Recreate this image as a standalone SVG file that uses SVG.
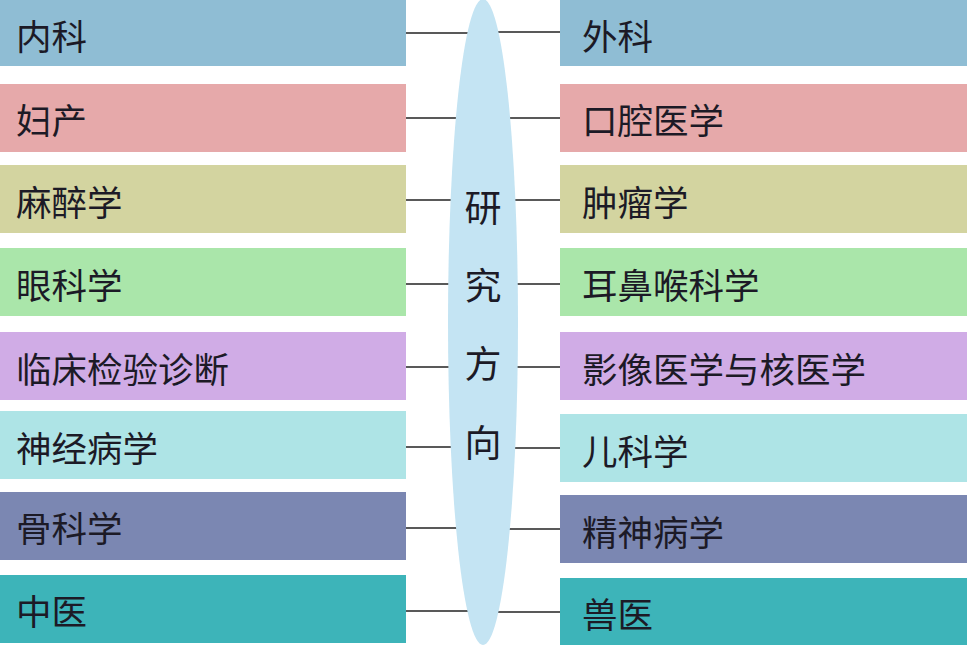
<svg xmlns="http://www.w3.org/2000/svg" width="967" height="645" viewBox="0 0 967 645">
<style>
.t{font-family:"Noto Sans CJK SC","Noto Sans",sans-serif;font-size:35.5px;fill:#1c1a26;dominant-baseline:central}
.c{text-anchor:middle;font-size:37px}
.ln{stroke:#222;stroke-width:1.3}
.r1{fill:#8fbdd4}.r2{fill:#e6a9aa}.r3{fill:#d3d4a0}.r4{fill:#aae6aa}
.r5{fill:#d0ace6}.r6{fill:#aee4e6}.r7{fill:#7b87b2}.r8{fill:#3db4b9}
</style>
<rect width="967" height="645" fill="#ffffff"/>
<g id="connectors">
<line class="ln" x1="406" y1="33" x2="470" y2="33"/><line class="ln" x1="496" y1="32" x2="560" y2="32"/>
<line class="ln" x1="406" y1="118" x2="470" y2="118"/><line class="ln" x1="496" y1="118" x2="560" y2="118"/>
<line class="ln" x1="406" y1="200" x2="470" y2="200"/><line class="ln" x1="496" y1="200" x2="560" y2="200"/>
<line class="ln" x1="406" y1="284" x2="470" y2="284"/><line class="ln" x1="496" y1="284" x2="560" y2="284"/>
<line class="ln" x1="406" y1="367" x2="470" y2="367"/><line class="ln" x1="496" y1="367" x2="560" y2="367"/>
<line class="ln" x1="406" y1="447" x2="470" y2="447"/><line class="ln" x1="496" y1="448" x2="560" y2="448"/>
<line class="ln" x1="406" y1="528" x2="470" y2="528"/><line class="ln" x1="496" y1="529" x2="560" y2="529"/>
<line class="ln" x1="406" y1="611" x2="470" y2="611"/><line class="ln" x1="496" y1="612" x2="560" y2="612"/>
</g>
<g id="center">
<ellipse cx="483" cy="322" rx="35" ry="323" fill="#c4e4f3"/>
<text class="t c" x="483" y="206">研</text>
<text class="t c" x="483" y="284">究</text>
<text class="t c" x="483" y="362">方</text>
<text class="t c" x="483" y="441">向</text>
</g>
<g id="l1"><rect class="r1" x="0" y="0" width="406" height="66"/><text class="t" x="16" y="34">内科</text></g>
<g id="l2"><rect class="r2" x="0" y="84" width="406" height="68"/><text class="t" x="16" y="118">妇产</text></g>
<g id="l3"><rect class="r3" x="0" y="165" width="406" height="68"/><text class="t" x="16" y="200">麻醉学</text></g>
<g id="l4"><rect class="r4" x="0" y="248" width="406" height="68"/><text class="t" x="16" y="283">眼科学</text></g>
<g id="l5"><rect class="r5" x="0" y="332" width="406" height="68"/><text class="t" x="16" y="367">临床检验诊断</text></g>
<g id="l6"><rect class="r6" x="0" y="411" width="406" height="68"/><text class="t" x="16" y="446">神经病学</text></g>
<g id="l7"><rect class="r7" x="0" y="492" width="406" height="68"/><text class="t" x="16" y="526">骨科学</text></g>
<g id="l8"><rect class="r8" x="0" y="575" width="406" height="68"/><text class="t" x="16" y="609">中医</text></g>
<g id="r1"><rect class="r1" x="560" y="0" width="407" height="66"/><text class="t" x="582" y="34">外科</text></g>
<g id="r2"><rect class="r2" x="560" y="84" width="407" height="68"/><text class="t" x="582" y="118">口腔医学</text></g>
<g id="r3"><rect class="r3" x="560" y="165" width="407" height="68"/><text class="t" x="582" y="200">肿瘤学</text></g>
<g id="r4"><rect class="r4" x="560" y="248" width="407" height="68"/><text class="t" x="582" y="283">耳鼻喉科学</text></g>
<g id="r5"><rect class="r5" x="560" y="332" width="407" height="68"/><text class="t" x="582" y="367">影像医学与核医学</text></g>
<g id="r6"><rect class="r6" x="560" y="414" width="407" height="68"/><text class="t" x="582" y="449">儿科学</text></g>
<g id="r7"><rect class="r7" x="560" y="495" width="407" height="68"/><text class="t" x="582" y="530">精神病学</text></g>
<g id="r8"><rect class="r8" x="560" y="578" width="407" height="67"/><text class="t" x="582" y="612">兽医</text></g>
</svg>
